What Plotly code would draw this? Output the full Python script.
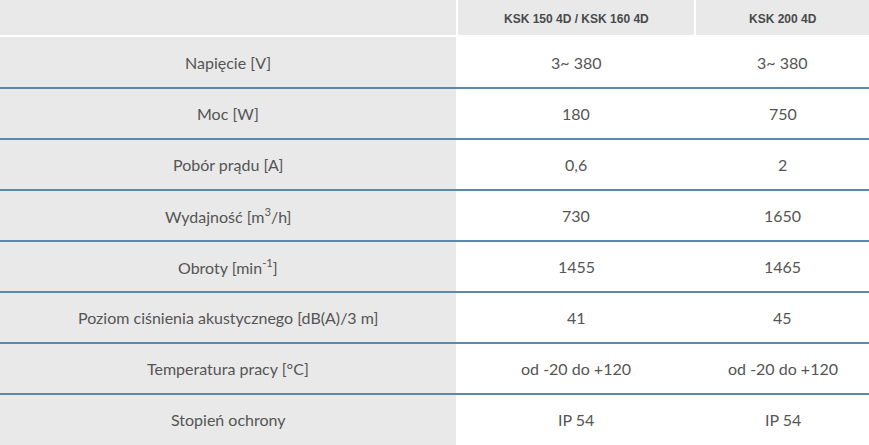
import plotly.graph_objects as go

# dane tabeli
naglowki = ["", "KSK 150 4D / KSK 160 4D", "KSK 200 4D"]
parametry = ["Napięcie [V]", "Moc [W]", "Pobór prądu [A]", "Wydajność [m<sup>3</sup>/h]",
             "Obroty [min<sup>-1</sup>]", "Poziom ciśnienia akustycznego [dB(A)/3 m]",
             "Temperatura pracy [°C]", "Stopień ochrony"]
ksk150_160 = ["3~ 380", "180", "0,6", "730", "1455", "41", "od -20 do +120", "IP 54"]
ksk200 = ["3~ 380", "750", "2", "1650", "1465", "45", "od -20 do +120", "IP 54"]

W, H = 869, 445
kol = [(0, 456), (458, 694), (696, 869)]
head_h = 35
top = 37
row_h = (H - top) / len(parametry)
gray = "#e9e9e9"
blue = "#5b88ab"
txt = "#555555"

fig = go.Figure()
shapes, ann = [], []

# naglowek
for i, (x0, x1) in enumerate(kol):
    shapes.append(dict(type="rect", x0=x0, x1=x1, y0=0, y1=head_h, fillcolor=gray, line_width=0))
    if naglowki[i]:
        ann.append(dict(x=(x0 + x1) / 2, y=head_h / 2 + 1, text=f"<b>{naglowki[i]}</b>", showarrow=False,
                        font=dict(family="Liberation Sans", size=12, color="#4a4a4a")))

# pierwsza kolumna szara
shapes.append(dict(type="rect", x0=kol[0][0], x1=kol[0][1], y0=top, y1=H, fillcolor=gray, line_width=0))

for r in range(len(parametry)):
    y0 = top + r * row_h
    yc = y0 + row_h / 2
    for i, val in enumerate([parametry[r], ksk150_160[r], ksk200[r]]):
        x0, x1 = kol[i]
        ann.append(dict(x=(x0 + x1) / 2, y=yc, text=val, showarrow=False,
                        font=dict(family="Lato", size=16, color=txt)))
    if r < len(parametry) - 1:
        shapes.append(dict(type="line", x0=0, x1=W, y0=y0 + row_h, y1=y0 + row_h,
                           line=dict(color=blue, width=2)))

fig.update_layout(
    width=W, height=H, margin=dict(l=0, r=0, t=0, b=0),
    paper_bgcolor="white", plot_bgcolor="white",
    xaxis=dict(range=[0, W], visible=False, fixedrange=True),
    yaxis=dict(range=[H, 0], visible=False, fixedrange=True),
    shapes=shapes, annotations=ann, showlegend=False,
)
fig.write_html("out.html", config={"displayModeBar": False},
               post_script="document.body.style.margin='0';document.body.style.overflow='hidden';")
